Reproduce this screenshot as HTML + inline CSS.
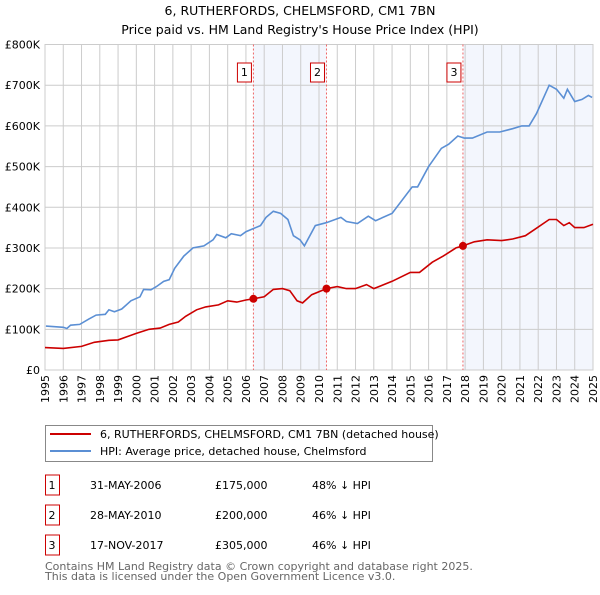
<!DOCTYPE html>
<html><head><meta charset="utf-8"><style>
body{margin:0;background:#fff;font-family:"Liberation Sans","DejaVu Sans",sans-serif;}
svg text{font-family:"DejaVu Sans","Liberation Sans",sans-serif;}
</style></head><body>
<svg id="c" width="600" height="590" xmlns="http://www.w3.org/2000/svg">
<text x="300" y="15" font-size="12.5" text-anchor="middle">6, RUTHERFORDS, CHELMSFORD, CM1 7BN</text>
<text x="300" y="34" font-size="12.5" text-anchor="middle">Price paid vs. HM Land Registry's House Price Index (HPI)</text>
<g id="plot"></g>
<g>
<rect x="45.5" y="425.5" width="387" height="36" fill="#fff" stroke="#888"/>
<line x1="50" y1="434" x2="91" y2="434" stroke="#cc0000" stroke-width="2"/>
<text x="100" y="438" font-size="11">6, RUTHERFORDS, CHELMSFORD, CM1 7BN (detached house)</text>
<line x1="50" y1="451" x2="91" y2="451" stroke="#5b8fd4" stroke-width="2"/>
<text x="100" y="455" font-size="11">HPI: Average price, detached house, Chelmsford</text>
</g>
<g id="table" font-size="11"></g>
<text x="45" y="570" font-size="11" fill="#666">Contains HM Land Registry data © Crown copyright and database right 2025.</text>
<text x="45" y="580" font-size="11" fill="#666">This data is licensed under the Open Government Licence v3.0.</text>
</svg>
<script>
const hpiYears=[1995.05,1996.0,1996.2,1996.4,1996.9,1997.4,1997.8,1998.3,1998.5,1998.8,1999.2,1999.7,2000.2,2000.4,2000.8,2001.1,2001.5,2001.8,2002.1,2002.6,2003.1,2003.7,2004.2,2004.4,2004.9,2005.2,2005.7,2006.0,2006.8,2007.1,2007.5,2007.9,2008.3,2008.6,2008.96,2009.2,2009.8,2010.4,2011.2,2011.5,2012.1,2012.7,2013.1,2014.0,2015.1,2015.4,2016.0,2016.7,2017.1,2017.6,2017.95,2018.4,2019.2,2019.9,2020.6,2021.1,2021.5,2021.9,2022.6,2023.0,2023.4,2023.6,2024.0,2024.4,2024.75,2024.95];
const hpiValues=[108,105,102,110,112,125,135,137,148,143,150,170,180,198,197,205,218,222,250,280,300,305,320,333,325,335,330,340,355,375,390,385,370,330,320,305,355,362,375,365,360,378,367,385,450,450,500,545,555,575,570,570,585,585,593,600,600,630,700,690,668,690,660,665,675,670];
const ppYears=[1995.0,1996.0,1997.0,1997.7,1998.5,1999.0,1999.5,2000.0,2000.7,2001.3,2001.8,2002.3,2002.7,2003.3,2003.8,2004.5,2005.0,2005.5,2006.0,2006.41,2007.0,2007.5,2008.0,2008.4,2008.8,2009.1,2009.6,2010.41,2011.0,2011.5,2012.0,2012.6,2013.0,2014.0,2015.0,2015.5,2016.2,2016.8,2017.5,2017.88,2018.5,2019.2,2020.0,2020.6,2021.3,2021.8,2022.6,2023.0,2023.4,2023.7,2024.0,2024.5,2025.0];
const ppValues=[55,53,58,68,73,74,82,90,100,103,112,118,132,148,155,160,170,167,172,175,180,198,200,195,170,165,185,200,205,200,200,210,200,218,240,240,265,280,300,305,315,320,318,322,330,345,370,370,355,362,350,350,358];
const saleLabels=["1","2","3"];
const saleYears=[2006.41,2010.41,2017.88];
const saleValues=[175,200,305];
const saleDates=["31-MAY-2006","28-MAY-2010","17-NOV-2017"];
const salePrices=["£175,000","£200,000","£305,000"];
const saleDiffs=["48% ↓ HPI","46% ↓ HPI","46% ↓ HPI"];
const yTicks=[0,100,200,300,400,500,600,700,800];
const yTickLabels=["£0","£100K","£200K","£300K","£400K","£500K","£600K","£700K","£800K"];
const xTicks=[1995,1996,1997,1998,1999,2000,2001,2002,2003,2004,2005,2006,2007,2008,2009,2010,2011,2012,2013,2014,2015,2016,2017,2018,2019,2020,2021,2022,2023,2024,2025];

const NS="http://www.w3.org/2000/svg";
const L=45,R=593,T=44.5,B=370;
const xs=y=>L+(y-1995)/30*(R-L);
const ys=v=>B-v/800*(B-T);
const g=document.getElementById('plot');
function mk(tag,at,parent){const e=document.createElementNS(NS,tag);for(const k in at)e.setAttribute(k,at[k]);(parent||g).appendChild(e);return e;}

for(let i=0;i<saleYears.length;i++){
  const x0=xs(saleYears[i]);const x1=i==0?xs(saleYears[1]):(i==2?R:null);
  if(x1===null)continue;
  const r=mk('rect',{x:x0,y:T,width:x1-x0,height:B-T,fill:'#f3f6fd'});
  
  
}
yTicks.forEach((v,i)=>{
  const l=mk('line',{x1:L,x2:R,y1:ys(v),y2:ys(v),stroke:'#ccc'});
  
  
  const t=mk('text',{x:L-5,y:ys(v)+4,'font-size':11,'text-anchor':'end'});
  t.textContent=yTickLabels[i];
  
  
});
xTicks.forEach(y=>{
  const l=mk('line',{x1:xs(y),x2:xs(y),y1:T,y2:B,stroke:'#ccc'});
  
  
  const t=mk('text',{x:0,y:0,'font-size':11,'text-anchor':'end',transform:`translate(${xs(y)+4},${B+5}) rotate(-90)`});
  t.textContent=y;
  
  
});
mk('rect',{x:L,y:T,width:R-L,height:B-T,fill:'none',stroke:'#ccc'});
saleYears.forEach((y,i)=>{
  const l=mk('line',{x1:xs(y),x2:xs(y),y1:T,y2:B,stroke:'#e66','stroke-dasharray':'2,2'});
  
  
  const b=mk('rect',{x:xs(y)-16,y:63,width:14,height:19,fill:'#fff',stroke:'#cc0000'});
  
  
  const t=mk('text',{x:xs(y)-9,y:76,'font-size':11,'text-anchor':'middle'});
  t.textContent=saleLabels[i];
  
  
});
function line(xa,va,color,name){
  const d=xa.map((x,i)=>(i?'L':'M')+xs(x).toFixed(1)+','+ys(va[i]).toFixed(1)).join('');
  const p=mk('path',{d:d,fill:'none',stroke:color,'stroke-width':1.6});
  
  
}
line(hpiYears,hpiValues,'#5b8fd4','hpi-line');
line(ppYears,ppValues,'#cc0000','price-paid-line');
saleYears.forEach((y,i)=>{
  const c=mk('circle',{cx:xs(y),cy:ys(saleValues[i]),r:4,fill:'#cc0000'});
  
  
});
const tb=document.getElementById('table');
saleLabels.forEach((s,i)=>{
  const y=487+i*30;
  const b=mk('rect',{x:45.5,y:y-12,width:14,height:20,fill:'#fff',stroke:'#cc0000'},tb);
  
  
  const cols=[[52,s,'middle'],[90,saleDates[i],'start'],[215,salePrices[i],'start'],[312,saleDiffs[i],'start']];
  cols.forEach(c=>{
    const t=mk('text',{x:c[0],y:y+2,'text-anchor':c[2]},tb);
    t.textContent=c[1];
    
    
  });
});
</script>
</body></html>
